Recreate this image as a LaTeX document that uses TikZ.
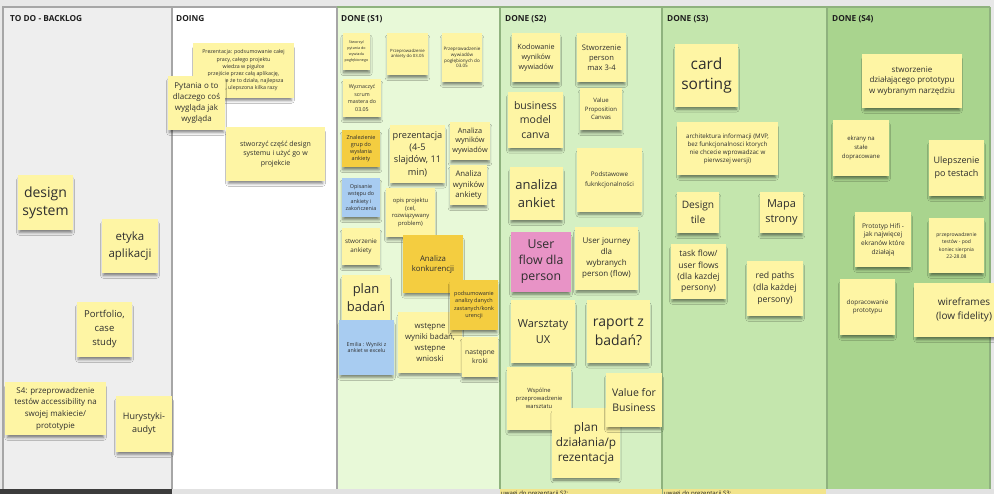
\documentclass[tikz,border=0pt]{standalone}
\usepackage{fontspec}
\setmainfont{Open Sans}
\usetikzlibrary{shadows.blur}

% board colours
\definecolor{bgGray}{HTML}{E8E8E8}
\definecolor{colTodo}{HTML}{EEEEEE}
\definecolor{colDoing}{HTML}{FFFFFF}
\definecolor{colSone}{HTML}{E8F9D8}
\definecolor{colStwo}{HTML}{D5F0C3}
\definecolor{colSthree}{HTML}{C4E6AD}
\definecolor{colSfour}{HTML}{A9D48E}
\definecolor{lineGray}{HTML}{A6A6A6}
\definecolor{lineGreen}{HTML}{8FB27E}
\definecolor{barDark}{HTML}{3C3C3C}
\definecolor{barLight}{HTML}{E2E2E2}
\definecolor{barYellow}{HTML}{F2E48C}
% sticky note colours
\definecolor{cNote}{HTML}{FEF5A4}
\definecolor{cNoteDark}{HTML}{F4CD40}
\definecolor{cNoteBlue}{HTML}{A8CCF1}
\definecolor{cNotePink}{HTML}{E893C6}
\definecolor{cText}{HTML}{2E2E2E}
\definecolor{cHead}{HTML}{1E1E1E}

\newcommand\notefont[2]{\fontsize{#1}{#2}\selectfont}
\newcommand\headfont{\bfseries\fontsize{8.3}{10}\selectfont}

% sticky note from its corners: style, name, x1, y1, x2, y2, text
\newcommand\stickynote[7]{%
  \pgfmathsetmacro\stkw{#5-#3}%
  \pgfmathsetmacro\stkh{#6-#4}%
  \pgfmathsetmacro\stkx{(#3+#5)/2}%
  \pgfmathsetmacro\stky{(#4+#6)/2}%
  \node[#1, minimum width=\stkw pt, minimum height=\stkh pt] (#2) at (\stkx,\stky) {#7};%
}

\tikzset{
  note/.style={fill=cNote, text=cText, align=center, inner sep=0pt,
    blur shadow={shadow xshift=0pt, shadow yshift=-4pt, shadow blur radius=3pt,
                 shadow opacity=50, shadow scale=0.95}},
  notedark/.style={note, fill=cNoteDark},
  noteblue/.style={note, fill=cNoteBlue},
  notepink/.style={note, fill=cNotePink},
  colhead/.style={anchor=west, font=\headfont, text=cHead, inner sep=0pt},
  barlabel/.style={anchor=north west, font=\notefont{6}{7}, text=cHead, inner sep=0pt},
}

\begin{document}
\begin{tikzpicture}[x=1pt, y=-1pt]
\useasboundingbox (0,0) rectangle (994,494);
\clip (0,0) rectangle (994,494);

% background and columns
\fill[bgGray] (0,0) rectangle (994,494);
\fill[colTodo]   (3,7)   rectangle (172,489);
\fill[colDoing]  (172,7) rectangle (337,489);
\fill[colSone]   (337,7) rectangle (500,489);
\fill[colStwo]   (500,7) rectangle (662,489);
\fill[colSthree] (662,7) rectangle (827,489);
\fill[colSfour]  (827,7) rectangle (990,489);
\draw[lineGray, line width=1.2pt] (3,489) -- (3,7) -- (337,7);
\draw[lineGray, line width=1.2pt] (172,7) -- (172,489);
\draw[lineGray, line width=1.2pt] (337,7) -- (337,489);
\draw[lineGreen, line width=1.2pt] (337,7) -- (990,7);
\draw[lineGreen, line width=1.2pt] (500,7) -- (500,489);
\draw[lineGreen, line width=1.2pt] (662,7) -- (662,489);
\draw[lineGreen, line width=1.2pt] (827,7) -- (827,489);
\draw[lineGreen, line width=1.2pt] (990,7) -- (990,489);

% strip under the board
\fill[barDark]   (0,489)   rectangle (172,494);
\fill[barLight]  (172,489) rectangle (994,494);
\fill[barYellow] (500,489) rectangle (826,494);
\draw[lineGreen, line width=0.6pt] (662,489) -- (662,494);
\node[barlabel] (uwagiS2) at (501,490.3) {uwagi do prezentacji S2:};
\node[barlabel] (uwagiS3) at (664,490.3) {uwagi do prezentacji S3:};

% column headers
\node[colhead] (hTodo)  at (10,19)  {TO DO - BACKLOG};
\node[colhead] (hDoing) at (176,19) {DOING};
\node[colhead] (hSone)  at (341,19) {DONE (S1)};
\node[colhead] (hStwo)  at (505,19) {DONE (S2)};
\node[colhead] (hSthree) at (667,19) {DONE (S3)};
\node[colhead] (hSfour) at (832,19) {DONE (S4)};

% TO DO - BACKLOG
\stickynote{note,font=\notefont{14}{18}}{designsys}{18}{175}{73}{230}{design\\system}
\stickynote{note,font=\notefont{11.5}{16.5}}{etyka}{102}{219}{158}{273}{etyka\\aplikacji}
\stickynote{note,font=\notefont{9.5}{14}}{portfolio}{77}{302}{132}{357}{Portfolio,\\case\\study}
\stickynote{note,font=\notefont{8}{11.7}}{sfourtest}{5}{382}{106}{435}{S4: przeprowadzenie\\testów accessibility na\\swojej makiecie/\\prototypie}
\stickynote{note,font=\notefont{9}{13.3}}{hurystyki}{116}{396}{172}{452}{Hurystyki-\\audyt}

% DOING
\stickynote{note,font=\notefont{5.3}{7.2}}{prezcala}{193}{43}{294}{98}{Prezentacja: podsumowanie całej\\pracy, całego projektu\\wiedza w pigułce\\przejście przez całą aplikację,\\pokazanie że to działa, najlepsza\\wersja, ulepszona kilka razy}
\stickynote{note,font=\notefont{8}{10.7}}{pytania}{168}{76}{225}{130}{Pytania o to\\dlaczego coś\\wygląda jak\\wygląda}
\stickynote{note,font=\notefont{7}{9.5}}{czescds}{226}{127}{325}{181}{stworzyć część design\\systemu i użyć go w\\projekcie}

% DONE (S1)
\stickynote{note,font=\notefont{3.7}{6}}{pytwyw}{343}{33}{370}{70}{Stworzyć\\pytania do\\wywiadu\\pogłębionego}
\stickynote{note,font=\notefont{4.3}{5.2}}{ankdo}{387}{33}{428}{75}{Przeprowadzenie\\ankiety do 03.05}
\stickynote{note,font=\notefont{4.6}{5.8}}{wywdo}{442}{33}{482}{82}{Przeprowadzenie\\wywiadów\\pogłębionych do\\03.05}
\stickynote{note,font=\notefont{5.3}{7.6}}{scrum}{343}{79}{381}{117}{Wyznaczyć\\scrum\\mastera do\\03.05}
\stickynote{notedark,font=\notefont{5.5}{7.2}}{grupy}{342}{130}{380}{167}{Znalezienie\\grup do\\wysłania\\ankiety}
\stickynote{note,font=\notefont{9.2}{12.3}}{prezsl}{390}{125}{445}{183}{prezentacja\\(4-5\\slajdów, 11\\min)}
\stickynote{note,font=\notefont{7.3}{9.7}}{anawyw}{450}{122}{490}{160}{Analiza\\wyników\\wywiadów}
\stickynote{note,font=\notefont{7.8}{10.3}}{anaank}{450}{165}{487}{205}{Analiza\\wyników\\ankiety}
\stickynote{noteblue,font=\notefont{5.4}{7.5}}{wstep}{342}{178}{380}{217}{Opisanie\\wstępu do\\ankiety i\\zakończenia}
\stickynote{note,font=\notefont{5.8}{7.8}}{opisproj}{386}{188}{435}{237}{opis projektu\\(cel,\\rozwiązywany\\problem)}
\stickynote{note,font=\notefont{6.3}{8.3}}{stwank}{342}{228}{380}{265}{stworzenie\\ankiety}
\stickynote{notedark,font=\notefont{7.8}{10}}{konkur}{403}{235}{463}{293}{Analiza\\konkurencji}
\stickynote{note,font=\notefont{13}{17.5}}{planbad}{342}{275}{390}{320}{plan\\badań}
\stickynote{noteblue,font=\notefont{5.3}{6.8}}{emilia}{339}{320}{394}{375}{Emilia : Wyniki z\\ankiet w excelu}
\stickynote{note,font=\notefont{7.8}{10.8}}{wstepne}{398}{312}{462}{373}{wstępne\\wyniki badań,\\wstępne\\wnioski}
\stickynote{notedark,font=\notefont{5.5}{7.5}}{podsum}{450}{280}{498}{330}{podsumowanie\\analizy danych\\zastanych/konk\\urencji}
\stickynote{note,font=\notefont{6.8}{9.3}}{kroki}{462}{337}{498}{377}{następne\\kroki}

% DONE (S2)
\stickynote{note,font=\notefont{7.2}{9.8}}{kodow}{512}{33}{560}{82}{Kodowanie\\wyników\\wywiadów}
\stickynote{note,font=\notefont{7.6}{10.2}}{persony}{577}{33}{626}{82}{Stworzenie\\person\\max 3-4}
\stickynote{note,font=\notefont{10.5}{14.5}}{bmc}{508}{92}{563}{148}{business\\model\\canva}
\stickynote{note,font=\notefont{6}{8.5}}{vpc}{580}{88}{622}{130}{Value\\Proposition\\Canvas}
\stickynote{note,font=\notefont{13}{17.5}}{anankiet}{510}{167}{563}{220}{analiza\\ankiet}
\stickynote{note,font=\notefont{6.3}{9.5}}{podstaw}{577}{148}{642}{212}{Podstawowe\\fuknkcjonalności}
\stickynote{notepink,font=\notefont{12.3}{16}}{userflow}{511}{232}{571}{292}{User\\flow dla\\person}
\stickynote{note,font=\notefont{8}{11}}{journey}{575}{227}{638}{290}{User journey\\dla\\wybranych\\person (flow)}
\stickynote{note,font=\notefont{11}{15.5}}{warsztaty}{511}{300}{575}{363}{Warsztaty\\UX}
\stickynote{note,font=\notefont{14}{18.5}}{raport}{587}{300}{650}{363}{raport z\\badań?}
\stickynote{note,font=\notefont{5.8}{8}}{wspolne}{507}{367}{571}{430}{Wspólne\\przeprowadzenie\\warsztatu}
\stickynote{note,font=\notefont{11.8}{15}}{plandz}{552}{408}{620}{478}{plan\\działania/p\\rezentacja}
\stickynote{note,font=\notefont{10.5}{14.3}}{vfb}{606}{373}{662}{427}{Value for\\Business}

% DONE (S3)
\stickynote{note,font=\notefont{15.5}{20.5}}{cardsort}{675}{44}{738}{107}{card\\sorting}
\stickynote{note,font=\notefont{6.2}{8}}{archinf}{677}{122}{778}{175}{architektura informacji (MVP,\\bez funkcjonalnosci ktorych\\nie chcecie wprowadzac w\\pierwszej wersji)}
\stickynote{note,font=\notefont{10.2}{14.5}}{designtile}{677}{192}{719}{233}{Design\\tile}
\stickynote{note,font=\notefont{11}{15.5}}{mapa}{760}{192}{803}{233}{Mapa\\strony}
\stickynote{note,font=\notefont{8.5}{11.3}}{taskflow}{671}{244}{726}{299}{task flow/\\user flows\\(dla kazdej\\persony)}
\stickynote{note,font=\notefont{8.7}{12}}{redpaths}{747}{261}{803}{316}{red paths\\(dla każdej\\persony)}

% DONE (S4)
\stickynote{note,font=\notefont{8}{10.5}}{dzialproto}{862}{54}{962}{108}{stworzenie\\działającego prototypu\\w wybranym narzędziu}
\stickynote{note,font=\notefont{6}{9}}{ekrany}{833}{120}{889}{176}{ekrany na\\stałe\\dopracowane}
\stickynote{note,font=\notefont{9}{13.3}}{ulepsz}{929}{140}{984}{196}{Ulepszenie\\po testach}
\stickynote{note,font=\notefont{6.5}{8.7}}{hifi}{855}{212}{911}{267}{Prototyp Hifi -\\jak najwięcej\\ekranów które\\działają}
\stickynote{note,font=\notefont{5}{7.3}}{testy}{929}{218}{984}{273}{przeprowadzenie\\testów - pod\\koniec sierpnia\\22-28.08}
\stickynote{note,font=\notefont{6.3}{8.3}}{doprproto}{840}{279}{895}{335}{dopracowanie\\prototypu}
\stickynote{note,font=\notefont{10}{14.3}}{wirefr}{914}{283}{1014}{337}{wireframes\\(low fidelity)}
\end{tikzpicture}
\end{document}
